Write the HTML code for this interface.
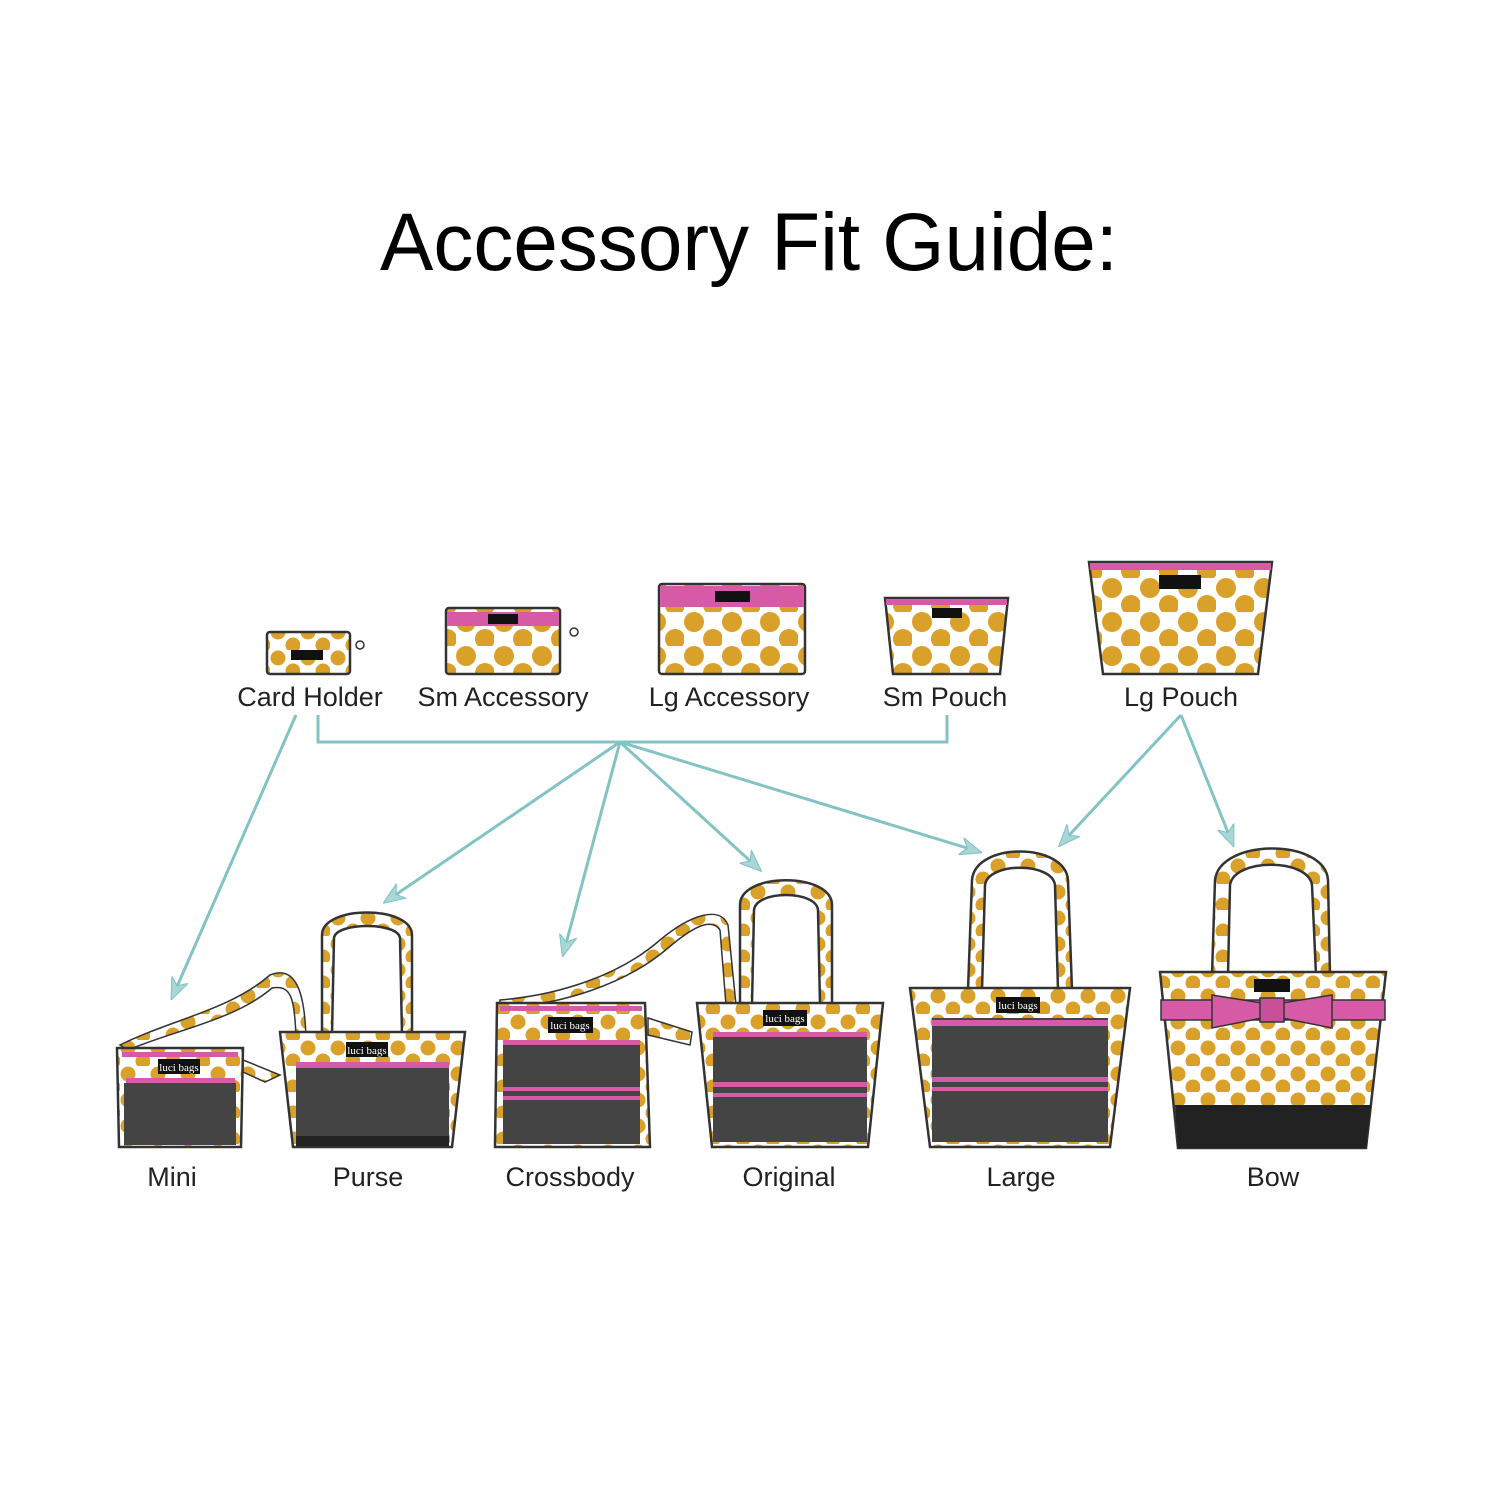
<!DOCTYPE html>
<html><head><style>html,body{margin:0;padding:0;background:#fff}svg{display:block}</style></head>
<body>
<svg width="1500" height="1500" viewBox="0 0 1500 1500" xmlns="http://www.w3.org/2000/svg" font-family="Liberation Sans, sans-serif">
<defs>
<pattern id="d" width="30" height="26" patternUnits="userSpaceOnUse">
<rect width="30" height="26" fill="#fff"/><circle cx="8" cy="8" r="7.5" fill="#d9a12a"/><circle cx="23" cy="21" r="7.5" fill="#d9a12a"/></pattern>
<pattern id="D" width="38" height="34" patternUnits="userSpaceOnUse">
<rect width="38" height="34" fill="#fff"/><circle cx="10" cy="10" r="10" fill="#d9a12a"/><circle cx="29" cy="27" r="10" fill="#d9a12a"/></pattern>
<marker id="a" viewBox="0 0 20 20" refX="18" refY="10" markerWidth="22" markerHeight="22" markerUnits="userSpaceOnUse" orient="auto"><path d="M0,2 L20,10 L0,18 L6,10 Z" fill="#a9d6d6" stroke="#84c3c3"/></marker>
</defs>
<rect width="1500" height="1500" fill="#fff"/>
<text x="749" y="270" font-size="82" text-anchor="middle" textLength="738" lengthAdjust="spacingAndGlyphs" fill="#000">Accessory Fit Guide:</text>

<g stroke="#84c3c3" stroke-width="3" fill="none">
<polyline points="318,715 318,742 947,742 947,715"/>
<line x1="620" y1="742" x2="385" y2="902" marker-end="url(#a)"/>
<line x1="620" y1="742" x2="563" y2="955" marker-end="url(#a)"/>
<line x1="620" y1="742" x2="760" y2="870" marker-end="url(#a)"/>
<line x1="620" y1="742" x2="980" y2="852" marker-end="url(#a)"/>
<line x1="296" y1="715" x2="172" y2="998" marker-end="url(#a)"/>
<line x1="1181" y1="715" x2="1060" y2="845" marker-end="url(#a)"/>
<line x1="1181" y1="715" x2="1233" y2="845" marker-end="url(#a)"/>
</g>

<g stroke="#333" stroke-width="2.5">
<!-- card holder -->
<rect x="267" y="632" width="83" height="42" rx="3" fill="url(#d)"/>
<rect x="291" y="650" width="32" height="10" fill="#111" stroke="none"/>
<circle cx="360" cy="645" r="4" fill="none" stroke-width="1.5"/>
<!-- sm accessory -->
<rect x="446" y="608" width="114" height="66" rx="3" fill="url(#D)"/>
<rect x="447" y="612" width="112" height="14" fill="#d65aa6" stroke="none"/>
<rect x="488" y="614" width="30" height="10" fill="#111" stroke="none"/>
<circle cx="574" cy="632" r="4" fill="none" stroke-width="1.5"/>
<!-- lg accessory -->
<rect x="659" y="584" width="146" height="90" rx="3" fill="url(#D)"/>
<rect x="660" y="586" width="144" height="21" fill="#d65aa6" stroke="none"/>
<rect x="715" y="591" width="35" height="11" fill="#111" stroke="none"/>
<!-- sm pouch -->
<path d="M885,598 L1008,598 L1000,674 L893,674 Z" fill="url(#D)"/>
<rect x="886" y="599" width="121" height="6" fill="#d65aa6" stroke="none"/>
<rect x="932" y="608" width="30" height="10" fill="#111" stroke="none"/>
<!-- lg pouch -->
<path d="M1089,562 L1272,562 L1258,674 L1103,674 Z" fill="url(#D)"/>
<rect x="1090" y="563" width="181" height="7" fill="#d65aa6" stroke="none"/>
<rect x="1159" y="575" width="42" height="14" fill="#111" stroke="none"/>
</g>

<g font-size="27" fill="#222" text-anchor="middle">
<text x="310" y="706">Card Holder</text>
<text x="503" y="706">Sm Accessory</text>
<text x="729" y="706">Lg Accessory</text>
<text x="945" y="706">Sm Pouch</text>
<text x="1181" y="706">Lg Pouch</text>
<text x="172" y="1186">Mini</text>
<text x="368" y="1186">Purse</text>
<text x="570" y="1186">Crossbody</text>
<text x="789" y="1186">Original</text>
<text x="1021" y="1186">Large</text>
<text x="1273" y="1186">Bow</text>
</g>

<g stroke="#333" stroke-width="2.5">
<!-- Mini strap -->
<path d="M120,1045 C170,1020 230,1010 270,975 C295,965 305,990 306,1040 L296,1040 C295,995 290,985 272,988 C235,1020 175,1030 128,1050 Z" fill="url(#d)" stroke-width="1.5"/>
<path d="M243,1060 L280,1075 L265,1082 L243,1072 Z" fill="url(#d)" stroke-width="1.5"/>
<!-- Mini -->
<path d="M117,1048 L243,1048 L241,1147 L119,1147 Z" fill="url(#d)"/>
<rect x="122" y="1052" width="116" height="5" fill="#d65aa6" stroke="none"/>
<rect x="158" y="1059" width="42" height="15" fill="#111" stroke="none"/>
<text x="179" y="1071" font-size="11" fill="#fff" stroke="none" text-anchor="middle" font-family="Liberation Serif, serif">luci bags</text>
<rect x="126" y="1078" width="109" height="5" fill="#d65aa6" stroke="none"/>
<rect x="124" y="1083" width="112" height="62" fill="#444" stroke="none"/>
<!-- Purse -->
<path d="M322,1035 L322,935 C322,905 412,905 412,935 L412,1035 L402,1035 L400,938 C398,922 336,922 334,938 L332,1035 Z" fill="url(#d)"/>
<path d="M280,1032 L465,1032 L452,1147 L293,1147 Z" fill="url(#d)"/>
<rect x="296" y="1062" width="153" height="6" fill="#d65aa6" stroke="none"/>
<rect x="296" y="1068" width="153" height="70" fill="#444" stroke="none"/>
<rect x="296" y="1136" width="153" height="10" fill="#222" stroke="none"/>
<rect x="346" y="1042" width="42" height="15" fill="#111" stroke="none"/>
<text x="367" y="1054" font-size="11" fill="#fff" stroke="none" text-anchor="middle" font-family="Liberation Serif, serif">luci bags</text>
<!-- Crossbody strap -->
<path d="M500,1000 C560,995 620,975 660,940 C690,915 720,905 728,925 L736,1005 L726,1005 L720,930 C712,918 695,925 668,948 C625,985 560,1005 500,1008 Z" fill="url(#d)" stroke-width="1.5"/>
<path d="M648,1018 L692,1032 L690,1045 L648,1035 Z" fill="url(#d)" stroke-width="1.5"/>
<!-- Crossbody -->
<path d="M497,1003 L645,1003 L650,1147 L495,1147 Z" fill="url(#d)"/>
<rect x="500" y="1006" width="142" height="5" fill="#d65aa6" stroke="none"/>
<rect x="548" y="1017" width="45" height="16" fill="#111" stroke="none"/>
<text x="570" y="1029" font-size="11" fill="#fff" stroke="none" text-anchor="middle" font-family="Liberation Serif, serif">luci bags</text>
<rect x="503" y="1040" width="137" height="104" fill="#444" stroke="none"/>
<rect x="503" y="1040" width="137" height="5" fill="#d65aa6" stroke="none"/>
<rect x="503" y="1087" width="137" height="4" fill="#d65aa6" stroke="none"/>
<rect x="503" y="1096" width="137" height="4" fill="#d65aa6" stroke="none"/>
<!-- Original -->
<path d="M740,1005 L740,905 C740,872 832,872 832,905 L832,1005 L820,1005 L818,910 C816,890 756,890 754,910 L752,1005 Z" fill="url(#d)"/>
<path d="M697,1003 L883,1003 L868,1147 L712,1147 Z" fill="url(#d)"/>
<rect x="713" y="1032" width="154" height="110" fill="#444" stroke="none"/>
<rect x="713" y="1032" width="154" height="5" fill="#d65aa6" stroke="none"/>
<rect x="713" y="1082" width="154" height="5" fill="#d65aa6" stroke="none"/>
<rect x="713" y="1093" width="154" height="4" fill="#d65aa6" stroke="none"/>
<rect x="763" y="1010" width="44" height="16" fill="#111" stroke="none"/>
<text x="785" y="1022" font-size="11" fill="#fff" stroke="none" text-anchor="middle" font-family="Liberation Serif, serif">luci bags</text>
<!-- Large -->
<path d="M968,990 L972,880 C975,842 1065,842 1068,880 L1072,990 L1058,990 L1055,885 C1052,862 988,862 985,885 L982,990 Z" fill="url(#d)"/>
<path d="M910,988 L1130,988 L1110,1147 L930,1147 Z" fill="url(#d)"/>
<rect x="932" y="1018" width="176" height="124" fill="#444" stroke="none"/>
<rect x="932" y="1020" width="176" height="6" fill="#d65aa6" stroke="none"/>
<rect x="932" y="1077" width="176" height="5" fill="#d65aa6" stroke="none"/>
<rect x="932" y="1087" width="176" height="4" fill="#d65aa6" stroke="none"/>
<rect x="996" y="997" width="44" height="16" fill="#111" stroke="none"/>
<text x="1018" y="1009" font-size="11" fill="#fff" stroke="none" text-anchor="middle" font-family="Liberation Serif, serif">luci bags</text>
<!-- Bow -->
<path d="M1212,975 L1215,880 C1220,838 1325,838 1328,880 L1330,975 L1316,975 L1312,885 C1308,858 1234,858 1230,885 L1228,975 Z" fill="url(#d)"/>
<path d="M1160,972 L1386,972 L1366,1148 L1178,1148 Z" fill="url(#d)"/>
<path d="M1175,1105 L1371,1105 L1366,1148 L1178,1148 Z" fill="#222" stroke="none"/>
<rect x="1161" y="1000" width="224" height="20" fill="#d65aa6" stroke="#333" stroke-width="1.5"/>
<path d="M1212,995 L1262,1003 L1262,1018 L1212,1028 Z M1332,995 L1282,1003 L1282,1018 L1332,1028 Z" fill="#d65aa6" stroke="#333" stroke-width="1.5"/>
<rect x="1260" y="998" width="24" height="24" fill="#c94f99" stroke="#333" stroke-width="1.5"/>
<rect x="1254" y="979" width="36" height="13" fill="#111" stroke="none"/>
</g>
</svg>
</body></html>
